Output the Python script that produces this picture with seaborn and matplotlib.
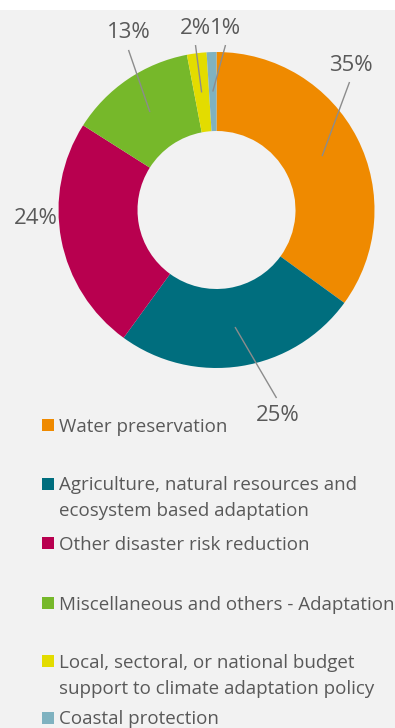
import matplotlib
matplotlib.use("Agg")
import matplotlib.pyplot as plt
from matplotlib.patches import Rectangle
import numpy as np
import seaborn as sns

# Shares of adaptation finance by theme (percent)
categories = [
    "Water preservation",
    "Agriculture, natural resources and\necosystem based adaptation",
    "Other disaster risk reduction",
    "Miscellaneous and others - Adaptation",
    "Local, sectoral, or national budget\nsupport to climate adaptation policy",
    "Coastal protection",
]
shares = [35, 25, 24, 13, 2, 1]
colors = ["#EF8A00", "#006E7E", "#B8004F", "#76B82A", "#E3DC00", "#7FB2C0"]

# Label anchor points (pie-radius units) and leader-line ends
label_xy = [(0.848, 0.915), (0.386, -1.300), (-1.146, -0.055),
            (-0.557, 1.125), (-0.133, 1.150), (0.060, 1.150)]
leader_end = [(0.842, 0.810), (0.380, -1.190), None,
              (-0.557, 1.013), (-0.133, 1.044), (0.057, 1.044)]

# Legend rows (pixels from top of figure) for the first line of each entry
legend_rows = [425, 484, 543, 603, 661, 718]

sns.set_theme(style="white")
plt.rcParams["font.family"] = ["Open Sans", "DejaVu Sans"]

W, H = 395, 728
fig = plt.figure(figsize=(W / 100, H / 100), dpi=100, facecolor="white")
fig.patches.append(Rectangle((0, 0), 1, (H - 10) / H, transform=fig.transFigure,
                             facecolor="#F2F2F2", edgecolor="none", zorder=-10))

cx, cy, r = 216.5, 210, 158
ax = fig.add_axes([(cx - r) / W, (H - cy - r) / H, 2 * r / W, 2 * r / H])
ax.set_facecolor("none")

wedges, _ = ax.pie(shares, colors=colors, startangle=90, counterclock=False,
                   radius=1.0, wedgeprops=dict(width=0.5, edgecolor="none"))
ax.set_xlim(-1, 1)
ax.set_ylim(-1, 1)
ax.set_aspect("equal")
ax.axis("off")

text_color = "#595959"
for w, share, (lx, ly), end in zip(wedges, shares, label_xy, leader_end):
    mid = np.deg2rad((w.theta1 + w.theta2) / 2)
    if end is not None:
        sx, sy = 0.75 * np.cos(mid), 0.75 * np.sin(mid)
        ax.plot([sx, end[0]], [sy, end[1]], color="#8C8C8C", lw=1.0,
                clip_on=False, solid_capstyle="butt")
    ax.text(lx, ly, f"{share}%", ha="center", va="center", fontsize=16,
            color=text_color, clip_on=False)

# Legend drawn as coloured squares with wrapped labels
for name, col, row in zip(categories, colors, legend_rows):
    yf = 1 - row / H
    fig.patches.append(Rectangle((42 / W, yf - 6 / H), 12 / W, 12 / H,
                                 transform=fig.transFigure, facecolor=col,
                                 edgecolor="none"))
    for i, line in enumerate(name.split("\n")):
        fig.text(59 / W, 1 - (row + 6.5 + 26 * i) / H, line, ha="left",
                 va="baseline", fontsize=13.5, color=text_color)

fig.savefig("out.png", dpi=100, facecolor=fig.get_facecolor())
